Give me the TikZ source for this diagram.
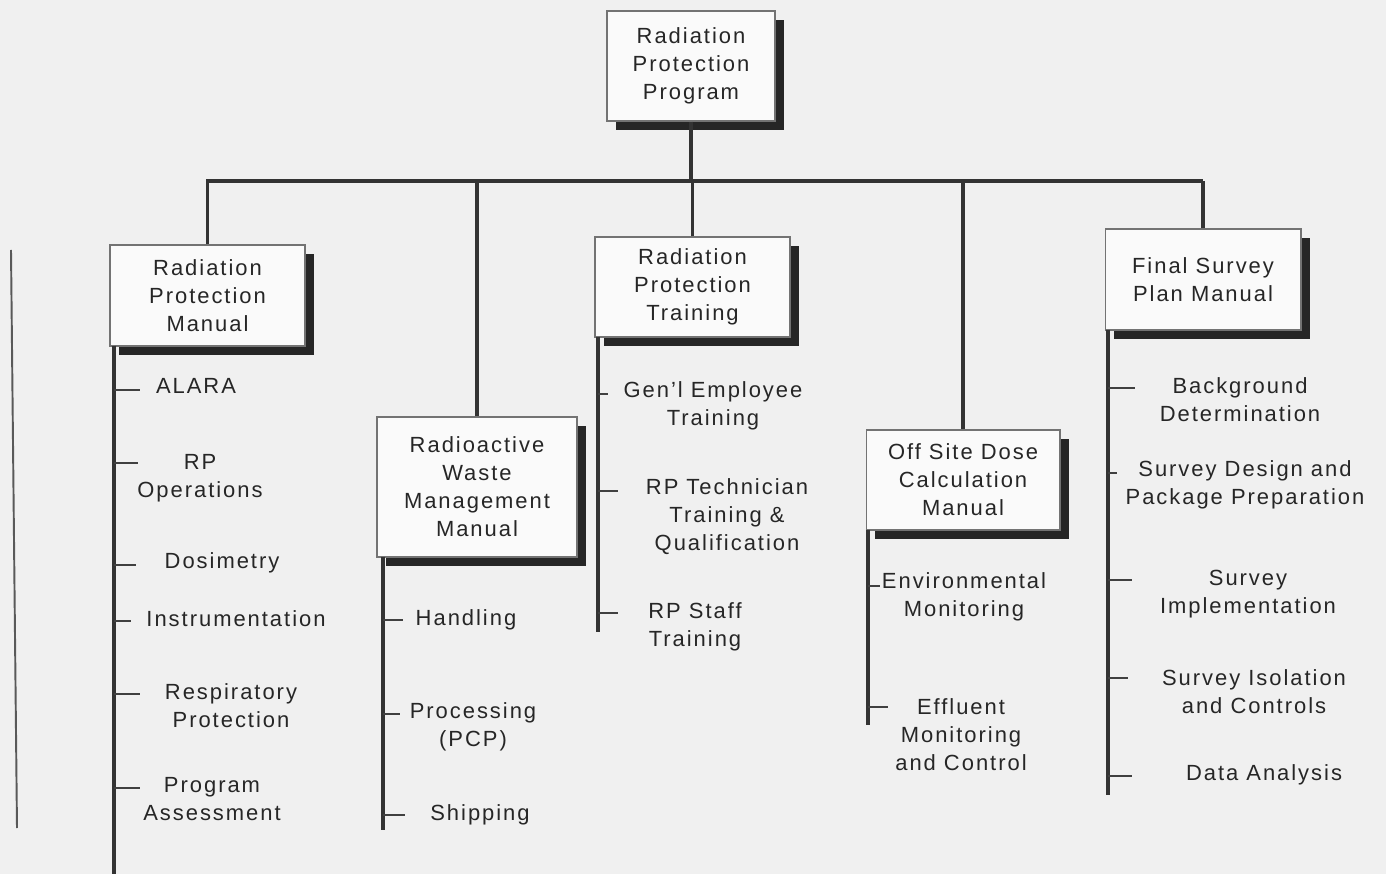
\documentclass[tikz,border=0pt]{standalone}
\usepackage{fontspec}
\setmainfont{Liberation Sans}[LetterSpace=9.0]
\usetikzlibrary{shadows}

\begin{document}
\begin{tikzpicture}[x=0.02cm, y=-0.02cm,
  unitbox/.style={draw=black!55, line width=0.6pt, fill=black!2, align=center, inner sep=0pt,
    text=black!85, font=\fontsize{12.5}{15.9}\selectfont,
    drop shadow={shadow xshift=0.18cm, shadow yshift=-0.18cm, fill=black!85, opacity=1}},
  item/.style={align=center, inner sep=0pt, text=black!85, font=\fontsize{12.5}{15.9}\selectfont},
  link/.style={line width=1.8pt, black!80},
  tick/.style={line width=1.5pt, black!75}]
\useasboundingbox (0,0) rectangle (1386,874);
\fill[black!6] (0,0) rectangle (1386,874);

% boxes
\node[unitbox, minimum width=3.36cm, minimum height=2.2cm] (prog) at (691,66) {Radiation\\Protection\\Program};
\node[unitbox, minimum width=3.9cm, minimum height=2.02cm] (rpm) at (207.5,295.5) {Radiation\\Protection\\Manual};
\node[unitbox, minimum width=4cm, minimum height=2.8cm] (rwm) at (477,487) {Radioactive\\Waste\\Management\\Manual};
\node[unitbox, minimum width=3.9cm, minimum height=2cm] (rpt) at (692.5,287) {Radiation\\Protection\\Training};
\node[unitbox, minimum width=3.88cm, minimum height=2cm] (odcm) at (963,480) {Off Site Dose\\Calculation\\Manual};
\node[unitbox, minimum width=3.92cm, minimum height=2.02cm] (fspm) at (1203,279.5) {Final Survey\\Plan Manual};

% bus
\coordinate (busL) at (206,181);
\coordinate (busR) at (1203,181);
\path[draw,link] (prog.south) -- (prog.south |- busL);
\path[draw,link] (busL) -- (busR);
\path[draw,link] (rpm.north) -- (rpm.north |- busL);
\path[draw,link] (rwm.north) -- (rwm.north |- busL);
\path[draw,link] (rpt.north) -- (rpt.north |- busL);
\path[draw,link] (odcm.north) -- (odcm.north |- busL);
\path[draw,link] (fspm.north) -- (fspm.north |- busL);

% spines
\coordinate (s1) at (114,346);
\coordinate (s1e) at (114,874);
\coordinate (s2) at (383,557);
\coordinate (s2e) at (383,830);
\coordinate (s3) at (598,337);
\coordinate (s3e) at (598,632);
\coordinate (s4) at (868,530);
\coordinate (s4e) at (868,725);
\coordinate (s5) at (1108,330);
\coordinate (s5e) at (1108,795);
\path[draw,link] (s1) -- (s1e);
\path[draw,link] (s2) -- (s2e);
\path[draw,link] (s3) -- (s3e);
\path[draw,link] (s4) -- (s4e);
\path[draw,link] (s5) -- (s5e);

% page edge
\coordinate (edgeT) at (11,250);
\coordinate (edgeB) at (17,828);
\path[draw,line width=1.1pt,black!65] (edgeT) -- (edgeB);

% Radiation Protection Manual
\node[item] (a1) at (196,386) {ALARA};
\node[item] (a2) at (200,478) {RP\\Operations};
\node[item] (a3) at (222,563) {Dosimetry};
\node[item] (a4) at (236,619) {Instrumentation};
\node[item] (a5) at (231,706) {Respiratory\\Protection};
\node[item] (a6) at (212,799) {Program\\Assessment};
\path[draw,tick] (s1 |- 0,390) -- ++(26,0);
\path[draw,tick] (s1 |- 0,463) -- ++(24,0);
\path[draw,tick] (s1 |- 0,565) -- ++(22,0);
\path[draw,tick] (s1 |- 0,621) -- ++(17,0);
\path[draw,tick] (s1 |- 0,694) -- ++(26,0);
\path[draw,tick] (s1 |- 0,788) -- ++(26,0);

% Radioactive Waste Management Manual
\node[item] (b1) at (466,620) {Handling};
\node[item] (b2) at (473,727) {Processing\\(PCP)};
\node[item] (b3) at (480,815) {Shipping};
\path[draw,tick] (s2 |- 0,620) -- ++(20,0);
\path[draw,tick] (s2 |- 0,714) -- ++(17,0);
\path[draw,tick] (s2 |- 0,815) -- ++(22,0);

% Radiation Protection Training
\node[item] (c1) at (713,406) {Gen'l Employee\\Training};
\node[item] (c2) at (727,517) {RP Technician\\Training \&\\Qualification};
\node[item] (c3) at (695,627) {RP Staff\\Training};
\path[draw,tick] (s3 |- 0,394) -- ++(10,0);
\path[draw,tick] (s3 |- 0,491) -- ++(20,0);
\path[draw,tick] (s3 |- 0,613) -- ++(20,0);

% Off Site Dose Calculation Manual
\node[item] (d1) at (964,597) {Environmental\\Monitoring};
\node[item] (d2) at (961,735) {Effluent\\Monitoring\\and Control};
\path[draw,tick] (s4 |- 0,586) -- ++(12,0);
\path[draw,tick] (s4 |- 0,707) -- ++(20,0);

% Final Survey Plan Manual
\node[item] (e1) at (1240,400) {Background\\Determination};
\node[item] (e2) at (1245,485) {Survey Design and\\Package Preparation};
\node[item] (e3) at (1248,594) {Survey\\Implementation};
\node[item] (e4) at (1254,692) {Survey Isolation\\and Controls};
\node[item] (e5) at (1264,775) {Data Analysis};
\path[draw,tick] (s5 |- 0,388) -- ++(27,0);
\path[draw,tick] (s5 |- 0,473) -- ++(9,0);
\path[draw,tick] (s5 |- 0,580) -- ++(24,0);
\path[draw,tick] (s5 |- 0,678) -- ++(20,0);
\path[draw,tick] (s5 |- 0,776) -- ++(24,0);
\end{tikzpicture}
\end{document}
